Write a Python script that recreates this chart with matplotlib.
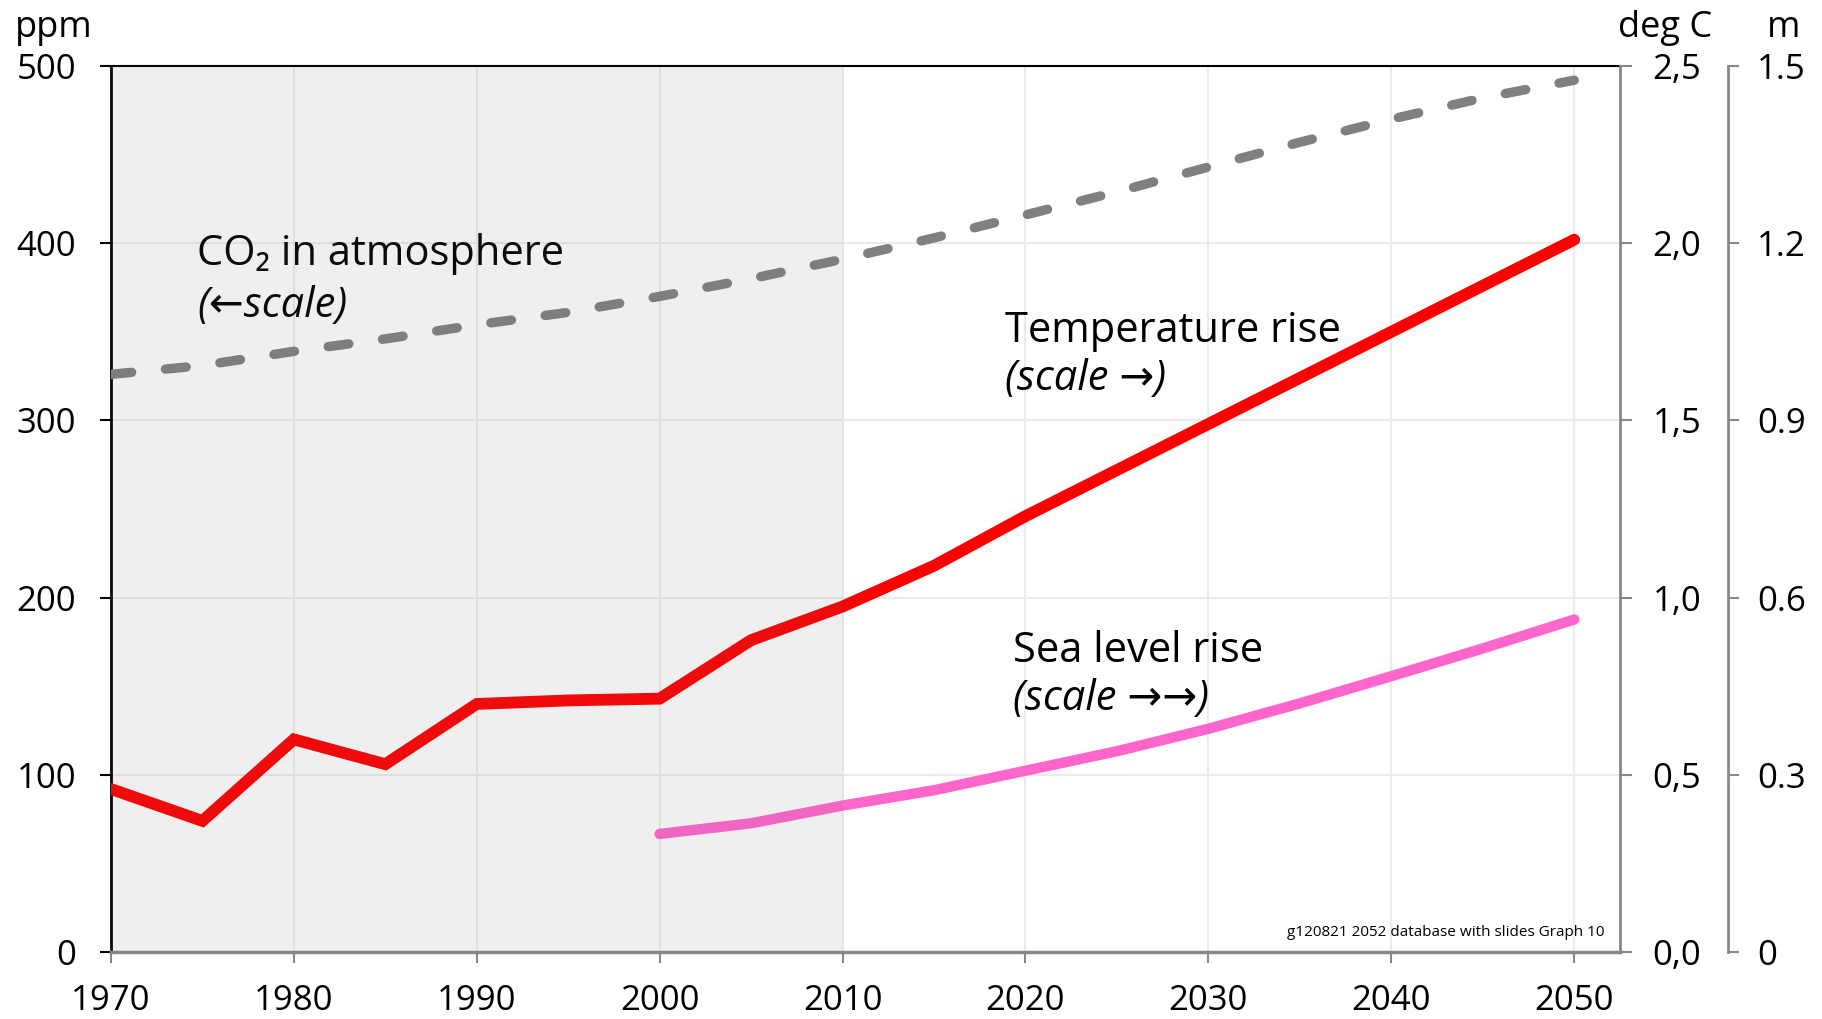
import matplotlib
matplotlib.use('Agg')
import matplotlib.pyplot as plt

plt.rcParams['font.family'] = ['Open Sans', 'DejaVu Sans']

# data
years = [1970, 1975, 1980, 1985, 1990, 1995, 2000, 2005, 2010, 2015,
         2020, 2025, 2030, 2035, 2040, 2045, 2050]
co2_ppm = [326, 331, 339, 346, 354, 361, 370, 380, 391, 403,
           416, 429, 443, 457, 470, 482, 492]
temp_rise = [0.46, 0.37, 0.60, 0.53, 0.70, 0.71, 0.715, 0.88, 0.975, 1.09,
             1.23, 1.36, 1.49, 1.62, 1.75, 1.88, 2.01]
sea_years = [2000, 2005, 2010, 2015, 2020, 2025, 2030, 2035, 2040, 2045, 2050]
sea_rise = [0.20, 0.218, 0.248, 0.274, 0.307, 0.34, 0.378, 0.421, 0.467, 0.514, 0.563]

x_ticks = [1970, 1980, 1990, 2000, 2010, 2020, 2030, 2040, 2050]
ppm_ticks = [0, 100, 200, 300, 400, 500]
temp_ticks = [0, 0.5, 1.0, 1.5, 2.0, 2.5]
temp_labels = ['0,0', '0,5', '1,0', '1,5', '2,0', '2,5']
sea_ticks = [0, 0.3, 0.6, 0.9, 1.2, 1.5]
sea_labels = ['0', '0.3', '0.6', '0.9', '1.2', '1.5']

history_end = 2010
grey = '#888888'

fig = plt.figure(figsize=(18.22, 10.19), dpi=100)
ax = fig.add_axes([0.0609, 0.0657, 0.8282, 0.8695])
ax2 = ax.twinx()
ax3 = ax.twinx()

# left axis: CO2
ax.plot(years, co2_ppm, color='#808080', lw=6.8, dashes=(2.2, 3.6),
        dash_capstyle='round', zorder=3)
ax.set_xlim(1970, 2052.5)
ax.set_ylim(0, 500)
ax.set_xticks(x_ticks)
ax.set_yticks(ppm_ticks)
ax.grid(True, color='#ebebeb', lw=1.5)
ax.set_axisbelow(True)
ax.tick_params(axis='y', direction='out', length=8, width=1.5, color='black',
               pad=17, labelsize=25)
ax.tick_params(axis='x', direction='out', length=8, width=1.5, color=grey,
               pad=15, labelsize=25)
ax.spines['left'].set_color('black')
ax.spines['left'].set_linewidth(2)
ax.spines['top'].set_linewidth(1.5)
ax.spines['bottom'].set_color(grey)
ax.spines['bottom'].set_linewidth(2.5)
ax.spines['right'].set_visible(False)

# first right axis: temperature
ax2.plot(years, temp_rise, color='#ff0000', lw=8.5, solid_capstyle='round',
         solid_joinstyle='miter', zorder=3)
ax2.set_ylim(0, 2.5)
ax2.set_yticks(temp_ticks)
ax2.set_yticklabels(temp_labels)
ax2.tick_params(axis='y', direction='out', length=8.6, width=1.5, color=grey,
                pad=15, labelsize=25)
for s in ['left', 'top', 'bottom']:
    ax2.spines[s].set_visible(False)
ax2.spines['right'].set_color(grey)
ax2.spines['right'].set_linewidth(2)

# second right axis: sea level
ax3.plot(sea_years, sea_rise, color='#ff66cc', lw=7.5, solid_capstyle='round', zorder=3)
ax3.set_ylim(0, 1.5)
ax3.set_yticks(sea_ticks)
ax3.set_yticklabels(sea_labels)
ax3.spines['right'].set_position(('outward', 77.8))
ax3.tick_params(axis='y', direction='out', length=8, width=1.5, color=grey,
                pad=13, labelsize=25)
for s in ['left', 'top', 'bottom']:
    ax3.spines[s].set_visible(False)
ax3.spines['right'].set_color(grey)
ax3.spines['right'].set_linewidth(2)

# historic period shading, laid over everything
ax3.axvspan(1970, history_end, color=(113/255, 113/255, 113/255), alpha=0.106,
            lw=0, zorder=10)

# annotations
fs = 30
ax.text(1974.7, 387.7, 'CO\u2082 in atmosphere', fontsize=fs, va='baseline', zorder=12)
ax.text(1974.7, 358.4, '(\u2190scale)', fontsize=fs, style='italic', va='baseline', zorder=12)
ax.text(2018.9, 344.2, 'Temperature rise', fontsize=fs, va='baseline', zorder=12)
ax.text(2018.9, 317.2, '(scale \u2192)', fontsize=fs, style='italic', va='baseline', zorder=12)
ax.text(2019.3, 163.7, 'Sea level rise', fontsize=fs, va='baseline', zorder=12)
ax.text(2019.3, 136.6, '(scale \u2192\u2192)', fontsize=fs, style='italic', va='baseline', zorder=12)
ax.text(0.990, 0.0226, 'g120821 2052 database with slides Graph 10', fontsize=11,
        ha='right', va='center', transform=ax.transAxes, zorder=12)

# unit labels
fig.text(0.0082, 0.9637, 'ppm', fontsize=26, va='baseline', ha='left')
fig.text(0.9396, 0.9637, 'deg C', fontsize=26, va='baseline', ha='right')
fig.text(0.9879, 0.9637, 'm', fontsize=26, va='baseline', ha='right')

fig.savefig('out.png', dpi=100)
